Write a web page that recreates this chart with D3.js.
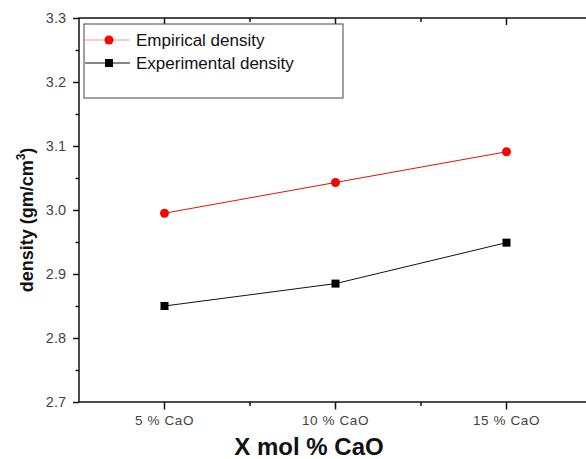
<!DOCTYPE html>
<html>
<head>
<meta charset="utf-8">
<script src="https://cdn.jsdelivr.net/npm/d3@7"></script>
<style>
  body { margin: 0; background: #fff; }
  text { font-family: Arial, "Liberation Sans", sans-serif; }
</style>
</head>
<body>
<script>
const width = 586;
const height = 459;
const margin = {left: 79, top: 18, right: 592, bottom: 402};

// data
const categories = ["5 % CaO", "10 % CaO", "15 % CaO"];
const empirical = [2.995, 3.043, 3.091];
const experimental = [2.850, 2.885, 2.949];
const yTicks = [2.7, 2.8, 2.9, 3.0, 3.1, 3.2, 3.3];
const yMinorTicks = [2.75, 2.85, 2.95, 3.05, 3.15, 3.25];
const seriesNames = ["Empirical density", "Experimental density"];

let svg = d3.select("body")
    .append("svg")
    .attr("width", width)
    .attr("height", height);

var xScale = d3.scaleBand()
    .domain(categories)
    .range([margin.left, margin.right]);

var yScale = d3.scaleLinear()
    .domain([2.7, 3.3])
    .range([margin.bottom, margin.top]);

function cx(c) {
    return xScale(c) + xScale.bandwidth() / 2;
}

// minor x ticks sit on the band edges
var xMinor = categories.slice(1).map(function(c) { return xScale(c); });

// y axis
var yAxis = d3.axisLeft(yScale)
    .tickValues(yTicks)
    .tickSize(6)
    .tickFormat(d3.format(".1f"));
var gy = svg.append("g")
    .attr("transform", "translate(" + margin.left + ",0)")
    .call(yAxis);
gy.select(".domain").remove();
gy.selectAll(".tick line").attr("stroke", "#111").attr("stroke-width", 1.5);
gy.selectAll(".tick text")
    .attr("font-size", 14.5)
    .attr("fill", "#444")
    .attr("x", -13)
    .style("font-family", "Arial, 'Liberation Sans', sans-serif");

svg.append("g")
    .attr("transform", "translate(" + margin.left + ",0)")
    .call(d3.axisLeft(yScale).tickValues(yMinorTicks).tickSize(3.5).tickFormat(""))
    .call(function(g) { g.select(".domain").remove(); })
    .selectAll(".tick line").attr("stroke", "#111").attr("stroke-width", 1.5);

// x axis
var xAxis = d3.axisBottom(xScale).tickSize(7.5);
var gx = svg.append("g")
    .attr("transform", "translate(0," + margin.bottom + ")")
    .call(xAxis);
gx.select(".domain").remove();
gx.selectAll(".tick line").attr("stroke", "#111").attr("stroke-width", 1.5);
gx.selectAll(".tick text")
    .attr("font-size", 13.5)
    .attr("fill", "#444")
    .attr("y", 13)
    .style("letter-spacing", "0.6px")
    .style("font-family", "Arial, 'Liberation Sans', sans-serif");

svg.selectAll(".xminor")
    .data(xMinor)
    .enter()
    .append("line")
    .attr("x1", function(d) { return d; })
    .attr("x2", function(d) { return d; })
    .attr("y1", margin.bottom)
    .attr("y2", margin.bottom + 4)
    .attr("stroke", "#111")
    .attr("stroke-width", 1.5);

// top ticks (inward)
svg.selectAll(".topmajor")
    .data(categories)
    .enter()
    .append("line")
    .attr("x1", cx)
    .attr("x2", cx)
    .attr("y1", margin.top)
    .attr("y2", margin.top + 7)
    .attr("stroke", "#111")
    .attr("stroke-width", 1.5);
svg.selectAll(".topminor")
    .data(xMinor)
    .enter()
    .append("line")
    .attr("x1", function(d) { return d; })
    .attr("x2", function(d) { return d; })
    .attr("y1", margin.top)
    .attr("y2", margin.top + 4)
    .attr("stroke", "#111")
    .attr("stroke-width", 1.5);

// frame
svg.append("rect")
    .attr("x", margin.left)
    .attr("y", margin.top)
    .attr("width", margin.right - margin.left)
    .attr("height", margin.bottom - margin.top)
    .attr("fill", "none")
    .attr("stroke", "#111")
    .attr("stroke-width", 1.5);

// lines
var line = d3.line()
    .x(function(d, i) { return cx(categories[i]); })
    .y(function(d) { return yScale(d); });

svg.append("path")
    .datum(empirical)
    .attr("d", line)
    .attr("fill", "none")
    .attr("stroke", "#e01010")
    .attr("stroke-width", 1);

svg.append("path")
    .datum(experimental)
    .attr("d", line)
    .attr("fill", "none")
    .attr("stroke", "#111")
    .attr("stroke-width", 1);

svg.selectAll(".empPt")
    .data(empirical)
    .enter()
    .append("circle")
    .attr("cx", function(d, i) { return cx(categories[i]); })
    .attr("cy", function(d) { return yScale(d); })
    .attr("r", 4.5)
    .attr("fill", "#ff0000");

svg.selectAll(".expPt")
    .data(experimental)
    .enter()
    .append("rect")
    .attr("x", function(d, i) { return cx(categories[i]) - 4; })
    .attr("y", function(d) { return yScale(d) - 4; })
    .attr("width", 8)
    .attr("height", 8)
    .attr("fill", "#000");

// legend
var legend = svg.append("g");
legend.append("rect")
    .attr("x", 84)
    .attr("y", 24)
    .attr("width", 259)
    .attr("height", 74)
    .attr("fill", "#fff")
    .attr("stroke", "#444")
    .attr("stroke-width", 1);

var rows = [40, 63];
legend.append("line")
    .attr("x1", 85).attr("x2", 130)
    .attr("y1", rows[0]).attr("y2", rows[0])
    .attr("stroke", "#eb9a9a").attr("stroke-width", 1.2);
legend.append("circle")
    .attr("cx", 109).attr("cy", rows[0]).attr("r", 4.5)
    .attr("fill", "#ff0000");
legend.append("line")
    .attr("x1", 85).attr("x2", 130)
    .attr("y1", rows[1]).attr("y2", rows[1])
    .attr("stroke", "#111").attr("stroke-width", 1.2);
legend.append("rect")
    .attr("x", 105).attr("y", rows[1] - 4).attr("width", 8).attr("height", 8)
    .attr("fill", "#000");

legend.selectAll(".ltext")
    .data(seriesNames)
    .enter()
    .append("text")
    .attr("x", 136)
    .attr("y", function(d, i) { return rows[i] + 6; })
    .attr("font-size", 17)
    .attr("fill", "#111")
    .text(function(d) { return d; });

// axis titles
svg.append("text")
    .attr("x", 309)
    .attr("y", 455)
    .attr("text-anchor", "middle")
    .attr("font-size", 24)
    .attr("font-weight", "bold")
    .attr("fill", "#111")
    .text("X mol % CaO");

var yt = svg.append("text")
    .attr("transform", "translate(33,220) rotate(-90)")
    .attr("text-anchor", "middle")
    .attr("font-size", 18)
    .attr("font-weight", "bold")
    .attr("fill", "#111");
yt.append("tspan").text("density (gm/cm");
yt.append("tspan").attr("font-size", 12).attr("dy", -8).text("3");
yt.append("tspan").attr("dy", 8).text(")");
</script>
</body>
</html>
